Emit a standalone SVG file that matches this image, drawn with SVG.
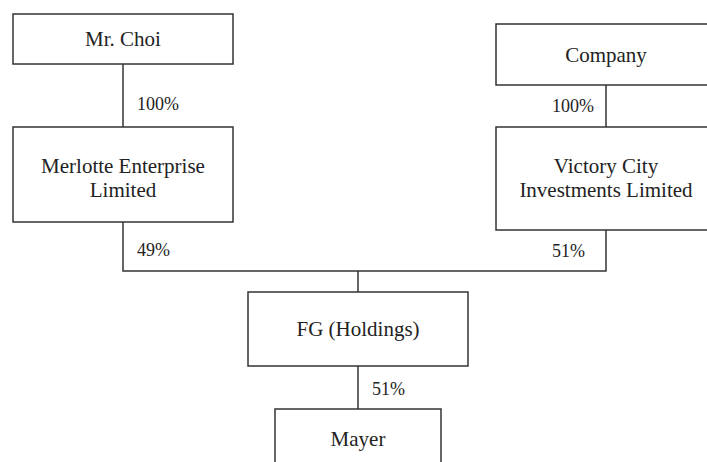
<svg xmlns="http://www.w3.org/2000/svg" width="707" height="462" viewBox="0 0 707 462">
<style>
.box{fill:#fff;stroke:#333;stroke-width:1.5}
.name{font-size:21px;fill:#222;text-anchor:middle}
.pct{font-size:18px;fill:#222}
.ln{stroke:#333;stroke-width:1.5;fill:none}
</style>
<rect width="707" height="462" fill="#fff"/>
<g font-family="Liberation Serif, Times New Roman, DejaVu Serif, serif">
<g id="connectors">
<line class="ln" x1="123" y1="64" x2="123" y2="127"/>
<line class="ln" x1="606" y1="85" x2="606" y2="127"/>
<polyline class="ln" points="123,222 123,271 606,271 606,230"/>
<line class="ln" x1="358" y1="271" x2="358" y2="292"/>
<line class="ln" x1="358" y1="366" x2="358" y2="409"/>
<text class="pct" x="137" y="110">100%</text>
<text class="pct" x="552" y="112">100%</text>
<text class="pct" x="137" y="256">49%</text>
<text class="pct" x="552" y="257">51%</text>
<text class="pct" x="372" y="395">51%</text>
</g>
<g id="mr-choi">
<rect class="box" x="13" y="14" width="220" height="50"/>
<text class="name" x="123" y="46">Mr. Choi</text>
</g>
<g id="company">
<rect class="box" x="496" y="24" width="220" height="61"/>
<text class="name" x="606" y="62">Company</text>
</g>
<g id="merlotte">
<rect class="box" x="13" y="127" width="220" height="95"/>
<text class="name" x="123" y="173">Merlotte Enterprise</text>
<text class="name" x="123" y="197">Limited</text>
</g>
<g id="victory">
<rect class="box" x="496" y="127" width="220" height="103"/>
<text class="name" x="606" y="173">Victory City</text>
<text class="name" x="606" y="197">Investments Limited</text>
</g>
<g id="fg">
<rect class="box" x="248" y="292" width="220" height="74"/>
<text class="name" x="358" y="336">FG (Holdings)</text>
</g>
<g id="mayer">
<rect class="box" x="275" y="409" width="166" height="70"/>
<text class="name" x="358" y="446">Mayer</text>
</g>
</g>
</svg>
